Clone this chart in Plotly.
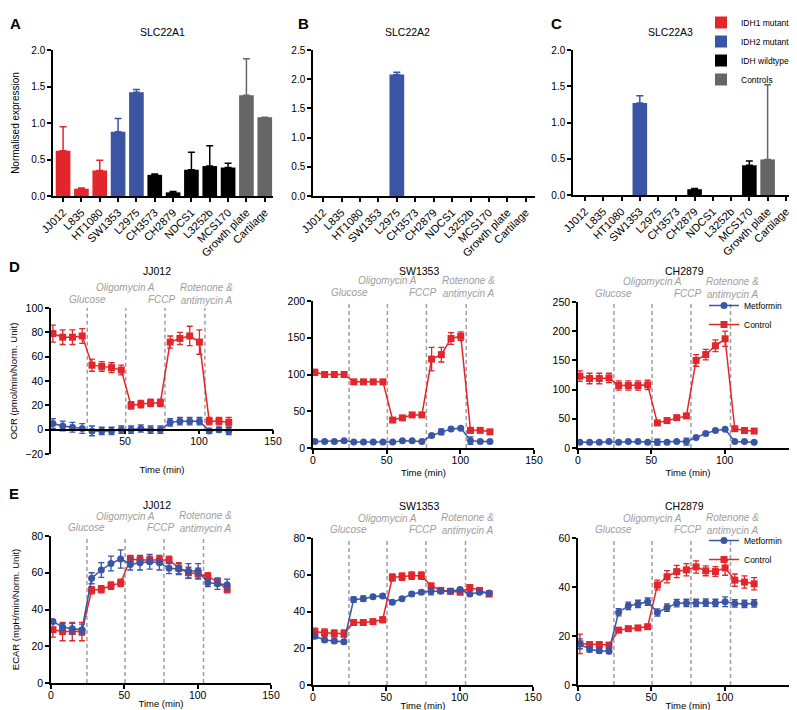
import plotly.graph_objects as go

W, H = 797, 710

# ---------------- data ----------------
cell_lines = ["JJ012", "L835", "HT1080", "SW1353", "L2975", "CH3573", "CH2879",
              "NDCS1", "L3252b", "MCS170", "Growth plate", "Cartilage"]
group_names = ["IDH1 mutant", "IDH2 mutant", "IDH wildtype", "Controls"]
line_groups = ["IDH1 mutant", "IDH1 mutant", "IDH1 mutant", "IDH2 mutant", "IDH2 mutant",
               "IDH wildtype", "IDH wildtype", "IDH wildtype", "IDH wildtype", "IDH wildtype",
               "Controls", "Controls"]

slc22a1 = [0.62, 0.10, 0.35, 0.88, 1.42, 0.29, 0.05, 0.36, 0.41, 0.39, 1.38, 1.08]
slc22a1_err = [0.33, 0.01, 0.14, 0.18, 0.04, 0.01, 0.01, 0.24, 0.28, 0.06, 0.50, None]
slc22a2 = [0, 0, 0, 0, 2.08, 0, 0, 0, 0, 0, 0, 0]
slc22a2_err = [None, None, None, None, 0.04, None, None, None, None, None, None, None]
slc22a3 = [0, 0, 0, 1.27, 0, 0, 0.08, 0, 0, 0.41, 0.49, 0]
slc22a3_err = [None, None, None, 0.10, None, None, 0.01, None, None, 0.06, 1.03, None]

time_min = [1.3, 7.9, 14.5, 21.1, 27.7, 34.3, 40.9, 47.5, 54.1, 60.7,
            67.3, 73.9, 80.5, 87.1, 93.7, 100.3, 106.9, 113.5, 120.1]
injection_times = [24.5, 50.5, 77, 104]
injection_names = ["Glucose", "Oligomycin A", "FCCP", "Rotenone &<br>antimycin A"]

# OCR
ocr_jj012_ctrl = [79, 76, 76, 77, 53, 52, 51, 49, 20, 21, 22, 22, 72, 75, 77, 72, 7, 7, 6]
ocr_jj012_ctrl_sd = [7, 6, 6, 6, 5, 4, 4, 4, 3, 3, 3, 3, 5, 5, 8, 10, 3, 3, 4]
ocr_jj012_met = [5, 3, 2, 1, -1, -1, -1, 0, 0, 1, 0, 0, 6, 7, 7, 7, -1, 0, -1]
ocr_jj012_met_sd = [4, 4, 4, 4, 4, 3, 3, 3, 3, 3, 3, 3, 3, 3, 3, 3, 2, 2, 3]

ocr_sw1353_ctrl = [103, 100, 100, 100, 90, 90, 90, 90, 38, 41, 45, 45, 121, 127, 149, 152, 24, 24, 22]
ocr_sw1353_ctrl_sd = [4, 2, 2, 2, 2, 2, 2, 2, 3, 2, 2, 2, 16, 10, 8, 6, 3, 2, 2]
ocr_sw1353_met = [9, 9, 9, 10, 8, 8, 8, 8, 8, 10, 10, 9, 17, 22, 26, 27, 10, 9, 9]
ocr_sw1353_met_sd = [2, 1, 1, 1, 1, 1, 1, 1, 1, 1, 1, 1, 2, 4, 2, 2, 5, 1, 1]

ocr_ch2879_ctrl = [123, 119, 119, 120, 107, 107, 107, 108, 43, 47, 52, 55, 150, 160, 175, 187, 33, 30, 29]
ocr_ch2879_ctrl_sd = [9, 9, 9, 8, 8, 8, 8, 8, 3, 3, 3, 3, 10, 9, 10, 13, 3, 2, 2]
ocr_ch2879_met = [10, 10, 10, 11, 10, 11, 11, 10, 10, 10, 11, 11, 18, 25, 30, 32, 11, 11, 10]
ocr_ch2879_met_sd = [2, 1, 1, 1, 1, 1, 1, 1, 5, 1, 1, 6, 2, 2, 2, 2, 1, 1, 1]

# ECAR
ecar_jj012_ctrl = [29, 28, 28, 28, 50.5, 51, 53, 54.5, 67.5, 67, 67, 67, 67, 62.5, 60, 59.5, 58, 55, 51]
ecar_jj012_ctrl_sd = [4, 5, 5, 5, 2, 2, 2, 2, 2, 2, 2, 2, 2, 3, 3, 3, 2, 2, 2]
ecar_jj012_met = [33.5, 30.5, 29.5, 29, 57, 61.5, 65, 67.5, 64.5, 65.5, 66, 65.5, 62.5, 62, 61, 61, 54.5, 54, 53.5]
ecar_jj012_met_sd = [1, 2, 3, 3, 3, 4, 4, 5, 3, 4, 4, 4, 3, 3, 4, 4, 2, 3, 3]

ecar_sw1353_ctrl = [29, 28.5, 28, 28, 34, 34, 34.5, 35.5, 58.5, 59, 59.5, 59.5, 54, 51.5, 51, 50.5, 53, 51.5, 49.5]
ecar_sw1353_ctrl_sd = [2, 2, 2, 2, 1, 1, 1, 1.5, 2, 2, 2, 2, 1, 1, 1, 1, 1.5, 1, 1]
ecar_sw1353_met = [26.5, 24.5, 24, 23.5, 46.5, 47, 48, 48.5, 45, 47, 49.5, 50.5, 51, 51, 51, 52, 49.5, 50.5, 50]
ecar_sw1353_met_sd = [1, 1, 1, 1, 1.5, 1.5, 1, 1, 1, 1, 1, 1, 2, 1, 1, 1, 1, 1, 1]

ecar_ch2879_ctrl = [16.8, 16.5, 16.5, 16.3, 22.4, 23, 23.3, 23.8, 40.8, 44.2, 46.3, 47, 48.2, 46.6, 46.3, 47.8, 42.8, 42, 41.3]
ecar_ch2879_ctrl_sd = [4, 1, 1, 1, 0.8, 0.8, 0.8, 0.8, 2, 2.5, 2.5, 2.5, 2.5, 2, 2, 3, 2.5, 2.5, 2.5]
ecar_ch2879_met = [16.8, 14.5, 14, 13.8, 29.7, 32.3, 33.1, 34, 29.6, 31.6, 33.4, 33.5, 33.5, 33.6, 33.5, 34, 33.3, 33.1, 33.3]
ecar_ch2879_met_sd = [2, 1, 1, 1, 1.5, 1.5, 1.5, 1.5, 1.5, 1.5, 1.5, 1.5, 1.5, 1.5, 1.5, 2, 1.5, 1.5, 1.5]

# ---------------- style ----------------
FONT = "Arial, 'Liberation Sans', Helvetica, sans-serif"
RED = "#E3262B"
BLUE = "#3B55A5"
group_colors = {"IDH1 mutant": RED, "IDH2 mutant": BLUE, "IDH wildtype": "#000000", "Controls": "#666666"}
DASH_GRAY = "#9E9E9E"


def fx(px):
    return px / W


def fy(py):
    return 1 - py / H


def xn(i):
    return "xaxis" if i == 1 else f"xaxis{i}"


def yn(i):
    return "yaxis" if i == 1 else f"yaxis{i}"


def xr(i):
    return "x" if i == 1 else f"x{i}"


def yr(i):
    return "y" if i == 1 else f"y{i}"


axis_common = dict(showline=True, linecolor="black", linewidth=1.5, ticks="outside",
                   ticklen=4, tickwidth=1.5, tickcolor="black", showgrid=False,
                   zeroline=False, automargin=False)

fig = go.Figure()
layout = {}
annotations = []
shapes = []

# ---------------- bar panels ----------------
bar_panels = [
    dict(i=1, x0=45, x1=265, top=42, bot=188, ymax=2.0, title="SLC22A1", tx=154,
         vals=slc22a1, errs=slc22a1_err, rng=[-0.55, 11.45], letter="A", lx=7),
    dict(i=2, x0=305, x1=527, top=42, bot=188, ymax=2.5, title="SLC22A2", tx=399,
         vals=slc22a2, errs=slc22a2_err, rng=[-0.55, 11.5], letter="B", lx=295),
    dict(i=3, x0=565, x1=787, top=42, bot=187, ymax=2.0, title="SLC22A3", tx=662,
         vals=slc22a3, errs=slc22a3_err, rng=[-0.66, 11.5], letter="C", lx=548),
]

for p in bar_panels:
    i = p["i"]
    for g in group_names:
        xs = [c for c, gg in zip(cell_lines, line_groups) if gg == g]
        # zero expression -> no visible bar
        ys = [(v if v > 0 else None) for v, gg in zip(p["vals"], line_groups) if gg == g]
        es = [e for e, gg in zip(p["errs"], line_groups) if gg == g]
        fig.add_trace(go.Bar(
            x=xs, y=ys, name=g, xaxis=xr(i), yaxis=yr(i),
            marker=dict(color=group_colors[g], line=dict(width=0)),
            width=0.8,
            error_y=dict(type="data", symmetric=False, array=es,
                         arrayminus=[0] * len(es), color=group_colors[g],
                         thickness=1.5, width=3.5),
            showlegend=(i == 1), legend="legend",
        ))
    layout[xn(i)] = dict(axis_common, type="category", categoryorder="array",
                         categoryarray=cell_lines, tickvals=cell_lines, range=p["rng"],
                         domain=[fx(p["x0"]), fx(p["x1"])], anchor=yr(i),
                         tickangle=-45, tickfont=dict(size=11, color="black", family=FONT))
    ya = dict(axis_common, range=[0, p["ymax"]], dtick=0.5, tickformat=".1f",
              domain=[fy(p["bot"]), fy(p["top"])], anchor=xr(i),
              tickfont=dict(size=10, color="black", family=FONT))
    if i == 1:
        ya["title"] = dict(text="Normalised expression", font=dict(size=10, color="black"), standoff=10)
    layout[yn(i)] = ya
    annotations.append(dict(text=p["title"], x=fx(p["tx"]), y=fy(24), xref="paper", yref="paper",
                            showarrow=False, xanchor="center", yanchor="middle",
                            font=dict(size=10.5, color="black")))
    annotations.append(dict(text="<b>" + p["letter"] + "</b>", x=fx(p["lx"]), y=fy(16),
                            xref="paper", yref="paper", showarrow=False, xanchor="center",
                            yanchor="middle", font=dict(size=15, color="black")))

# ---------------- time panels ----------------
time_panels = [
    dict(i=4, x0=43, x1=265, top=300, bot=446, yrng=[-20, 100], dtick=20, title="JJ012", ty=263,
         ctrl=ocr_jj012_ctrl, ctrl_sd=ocr_jj012_ctrl_sd, met=ocr_jj012_met, met_sd=ocr_jj012_met_sd,
         ytitle="OCR (pmol/min/Norm. Unit)", legend=None, xtv=[50, 100, 150], stand=19),
    dict(i=5, x0=305, x1=526, top=293, bot=440, yrng=[0, 200], dtick=50, title="SW1353", ty=263,
         ctrl=ocr_sw1353_ctrl, ctrl_sd=ocr_sw1353_ctrl_sd, met=ocr_sw1353_met, met_sd=ocr_sw1353_met_sd,
         ytitle=None, legend=None, xtv=[0, 50, 100, 150], stand=4),
    dict(i=6, x0=570, x1=790, top=294, bot=440, yrng=[0, 250], dtick=50, title="CH2879", ty=263,
         ctrl=ocr_ch2879_ctrl, ctrl_sd=ocr_ch2879_ctrl_sd, met=ocr_ch2879_met, met_sd=ocr_ch2879_met_sd,
         ytitle=None, legend="legend2", xtv=[0, 50, 100, 150], stand=4),
    dict(i=7, x0=43, x1=263, top=528, bot=675, yrng=[0, 80], dtick=20, title="JJ012", ty=497,
         ctrl=ecar_jj012_ctrl, ctrl_sd=ecar_jj012_ctrl_sd, met=ecar_jj012_met, met_sd=ecar_jj012_met_sd,
         ytitle="ECAR (mpH/min/Norm. Unit)", legend=None, xtv=[0, 50, 100, 150], stand=0),
    dict(i=8, x0=305, x1=525, top=530, bot=677, yrng=[0, 80], dtick=20, title="SW1353", ty=498,
         ctrl=ecar_sw1353_ctrl, ctrl_sd=ecar_sw1353_ctrl_sd, met=ecar_sw1353_met, met_sd=ecar_sw1353_met_sd,
         ytitle=None, legend=None, xtv=[0, 50, 100, 150], stand=0),
    dict(i=9, x0=570, x1=790, top=530, bot=677, yrng=[0, 60], dtick=20, title="CH2879", ty=498,
         ctrl=ecar_ch2879_ctrl, ctrl_sd=ecar_ch2879_ctrl_sd, met=ecar_ch2879_met, met_sd=ecar_ch2879_met_sd,
         ytitle=None, legend="legend3", xtv=[0, 50, 100, 150], stand=0),
]

for p in time_panels:
    i = p["i"]
    show = p["legend"] is not None
    lg = p["legend"] or "legend"
    fig.add_trace(go.Scatter(
        x=time_min, y=p["ctrl"], name="Control", mode="lines+markers",
        xaxis=xr(i), yaxis=yr(i), legend=lg, showlegend=show, legendrank=2,
        line=dict(color=RED, width=1.5),
        marker=dict(symbol="square", size=7, color=RED),
        error_y=dict(type="data", array=p["ctrl_sd"], color=RED, thickness=1.3, width=3),
    ))
    fig.add_trace(go.Scatter(
        x=time_min, y=p["met"], name="Metformin", mode="lines+markers",
        xaxis=xr(i), yaxis=yr(i), legend=lg, showlegend=show, legendrank=1,
        line=dict(color=BLUE, width=1.5),
        marker=dict(symbol="circle", size=7, color=BLUE),
        error_y=dict(type="data", array=p["met_sd"], color=BLUE, thickness=1.3, width=3),
    ))
    y0, y1 = p["yrng"]
    ppx = (p["bot"] - p["top"]) / (y1 - y0)
    zero_px = p["bot"] - (0 - y0) * ppx
    xa = dict(axis_common, range=[0, 150], tickvals=p["xtv"],
              domain=[fx(p["x0"]), fx(p["x1"])], ticklabelstandoff=-2,
              tickfont=dict(size=10.5, color="black", family=FONT),
              title=dict(text="Time (min)", font=dict(size=9.5, color="black"), standoff=p["stand"]))
    if y0 < 0:
        xa["anchor"] = "free"
        xa["position"] = fy(zero_px)
    else:
        xa["anchor"] = yr(i)
    layout[xn(i)] = xa
    ya = dict(axis_common, range=p["yrng"], dtick=p["dtick"],
              domain=[fy(p["bot"]), fy(p["top"])], anchor=xr(i),
              tickfont=dict(size=10.5, color="black", family=FONT))
    if p["ytitle"]:
        ya["title"] = dict(text=p["ytitle"], font=dict(size=9.5, color="black"), standoff=10)
    layout[yn(i)] = ya

    # injection markers
    for t in injection_times:
        shapes.append(dict(type="line", xref=xr(i), yref=yr(i), x0=t, x1=t, y0=0, y1=y1,
                           line=dict(color=DASH_GRAY, width=1.5, dash="4px,3px"), layer="below"))
    rows = [p["top"] - 8.5, p["top"] - 20, p["top"] - 8.5, p["top"] - 14]
    shifts = [0, 0, -3, 2]
    for t, name, ypx, sh in zip(injection_times, injection_names, rows, shifts):
        txt = "<br>".join("<i>" + s + "</i>" for s in name.split("<br>"))
        annotations.append(dict(text=txt, x=t, xref=xr(i), y=fy(ypx), yref="paper",
                                showarrow=False, xanchor="center", yanchor="middle", xshift=sh,
                                font=dict(size=10, color=DASH_GRAY)))
    annotations.append(dict(text=p["title"], x=fx(p["x0"] + 106), y=fy(p["ty"]),
                            xref="paper", yref="paper", showarrow=False,
                            xanchor="center", yanchor="middle",
                            font=dict(size=10.5, color="black")))

annotations.append(dict(text="<b>D</b>", x=fx(6), y=fy(258), xref="paper", yref="paper",
                        showarrow=False, xanchor="center", yanchor="middle",
                        font=dict(size=15, color="black")))
annotations.append(dict(text="<b>E</b>", x=fx(6), y=fy(485), xref="paper", yref="paper",
                        showarrow=False, xanchor="center", yanchor="middle",
                        font=dict(size=15, color="black")))

legend_common = dict(yanchor="top", xanchor="left", bgcolor="rgba(0,0,0,0)",
                     font=dict(size=8.5, color="black", family=FONT),
                     tracegroupgap=0, itemwidth=30)

fig.update_layout(
    width=W, height=H,
    margin=dict(l=0, r=0, t=0, b=0, autoexpand=False),
    paper_bgcolor="white", plot_bgcolor="white",
    font=dict(family=FONT, color="black"),
    barmode="overlay",
    showlegend=True,
    legend=dict(legend_common, x=fx(693), y=1),
    legend2=dict(legend_common, x=fx(696), y=fy(283)),
    legend3=dict(legend_common, x=fx(696), y=fy(518)),
    annotations=annotations,
    shapes=shapes,
    **layout,
)

fig.write_html("out.html")
